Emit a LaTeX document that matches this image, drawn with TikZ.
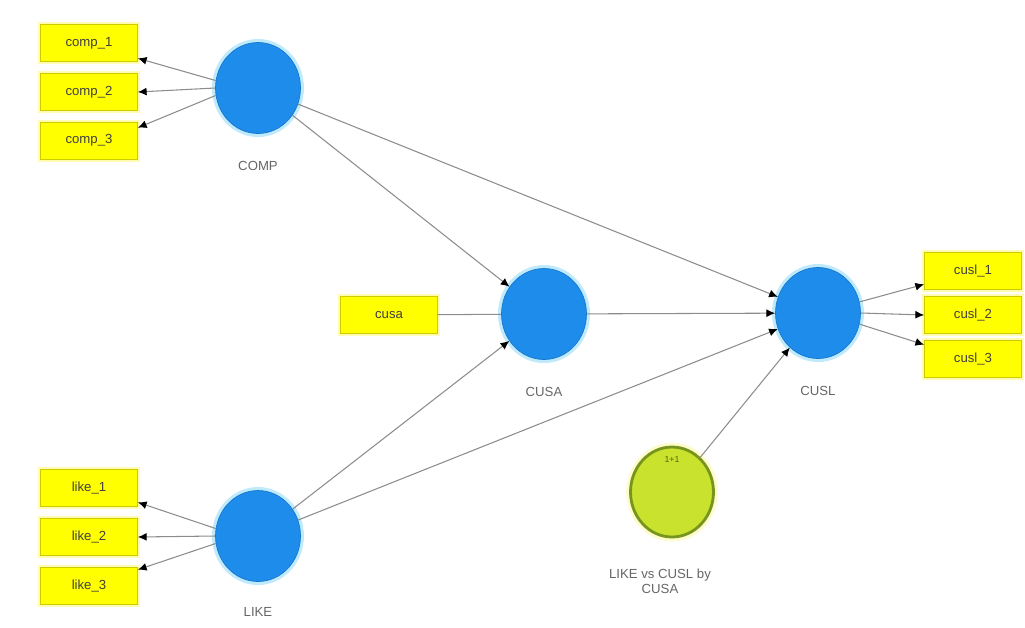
\documentclass[tikz,border=0pt]{standalone}
\usepackage{fontspec}
\setmainfont{Liberation Sans}
\usepackage{xcolor}
\usetikzlibrary{shapes.geometric, positioning, arrows.meta}
\definecolor{latentcolor}{RGB}{30, 140, 235}
\definecolor{itemcolor}{RGB}{255, 255, 0}
\definecolor{modcolor}{RGB}{200, 226, 45}
\definecolor{modborder}{RGB}{118, 148, 30}
\definecolor{pathcolor}{RGB}{140, 140, 140}

\begin{document}
\begin{tikzpicture}[
			x=0.02cm, y=-0.02cm,
			node distance=0.22cm,
			latent/.style={
				ellipse,
				minimum width=1.7cm,
				minimum height=1.82cm,
				fill=latentcolor,
				draw=latentcolor!85!black,
				line width=0.4pt,
				preaction={draw=cyan!25, line width=4pt}
			},
			item/.style={
				rectangle,
				minimum width=1.94cm,
				minimum height=0.74cm,
				fill=itemcolor,
				draw=itemcolor!80!black,
				line width=0.4pt,
				font=\fontsize{7.5}{9}\selectfont,
				text=black!75,
				preaction={draw=yellow!30, line width=3pt}
			},
			caption/.style={
				font=\fontsize{7.5}{9}\selectfont,
				text=black!60,
				align=center
			},
			path/.style={
				draw=pathcolor,
				line width=0.6pt,
				-{Latex[length=5pt, width=4.5pt, color=black]}
			}
			]
			
			\useasboundingbox (0,0) rectangle (1025,627);
			
			% latent variables
			\node[latent] (comp) at (258,88) {};
			\node[latent] (cusa) at (544,314) {};
			\node[latent] (cusl) at (818,313) {};
			\node[latent] (like) at (258,536) {};
			\node[ellipse, minimum width=1.66cm, minimum height=1.8cm, fill=modcolor,
				draw=modborder, line width=1.6pt, preaction={draw=yellow!20, line width=5pt}]
				(mod) at (672,492) {};
			\node[font=\fontsize{5}{6}\selectfont, text=modborder!70!black, below=0.1cm of mod.north] {1+1};
			
			\node[caption, below=0.42cm of comp] (comp label) {COMP};
			\node[caption, below=0.42cm of cusa] (cusa label) {CUSA};
			\node[caption, below=0.42cm of cusl] (cusl label) {CUSL};
			\node[caption, below=0.38cm of like] (like label) {LIKE};
			\node[caption, below=0.48cm of mod, xshift=-0.24cm] (mod label) {LIKE vs CUSL by\\CUSA};
			
			% indicators
			\node[item] (comp2) at (89,92) {comp\_2};
			\node[item, above=of comp2] (comp1) {comp\_1};
			\node[item, below=of comp2] (comp3) {comp\_3};
			
			\node[item] (like2) at (89,537) {like\_2};
			\node[item, above=of like2] (like1) {like\_1};
			\node[item, below=of like2] (like3) {like\_3};
			
			\node[item] (cusl2) at (973,315) {cusl\_2};
			\node[item, above=0.12cm of cusl2] (cusl1) {cusl\_1};
			\node[item, below=0.12cm of cusl2] (cusl3) {cusl\_3};
			
			\node[item] (cusa item) at (389,315) {cusa};
			
			% outer model
			\draw[path] (comp.170) -- ([yshift=-0.3cm]comp1.east);
			\draw[path] (comp.180) -- (comp2.east);
			\draw[path] (comp.190) -- ([yshift=0.26cm]comp3.east);
			
			\draw[path] (like.170) -- ([yshift=-0.28cm]like1.east);
			\draw[path] (like.180) -- (like2.east);
			\draw[path] (like.190) -- ([yshift=0.32cm]like3.east);
			
			\draw[path] (cusl.15) -- ([yshift=-0.26cm]cusl1.west);
			\draw[path] (cusl.0) -- (cusl2.west);
			\draw[path] (cusl.-15) -- ([yshift=0.28cm]cusl3.west);
			
			\draw[draw=pathcolor, line width=0.6pt] (cusa item) -- (cusa);
			
			% inner model
			\draw[path] (comp) -- (cusa);
			\draw[path] (comp) -- (cusl);
			\draw[path] (cusa) -- (cusl);
			\draw[path] (like) -- (cusa);
			\draw[path] (like) -- (cusl);
			\draw[path] (mod) -- (cusl);
			
		\end{tikzpicture}
\end{document}
